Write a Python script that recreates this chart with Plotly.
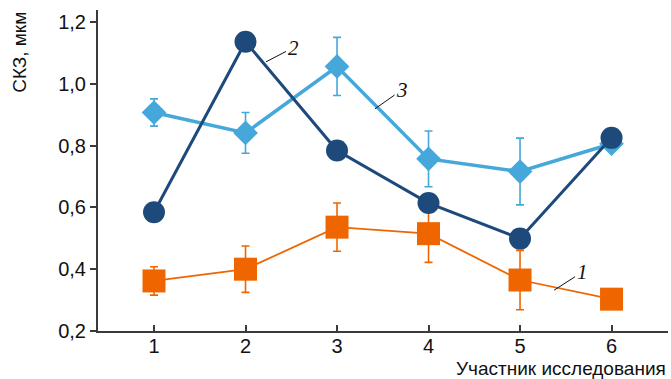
import plotly.graph_objects as go

# Participants and measured RMS values (мкм) with error margins
participants = [1, 2, 3, 4, 5, 6]

series1 = [0.362, 0.400, 0.536, 0.515, 0.365, 0.303]
series1_err = [0.046, 0.075, 0.078, 0.093, 0.096, 0.0]

series2 = [0.584, 1.136, 0.784, 0.614, 0.499, 0.825]

series3 = [0.907, 0.841, 1.056, 0.757, 0.716, 0.806]
series3_err = [0.044, 0.066, 0.094, 0.090, 0.108, 0.0]

y_ticks = [0.2, 0.4, 0.6, 0.8, 1.0, 1.2]
y_tick_text = ["0,2", "0,4", "0,6", "0,8", "1,0", "1,2"]

ORANGE = "#EF6600"
DARK_BLUE = "#1E497B"
LIGHT_BLUE = "#45A7DA"
AXIS = "#3a3a3a"

fig = go.Figure()

fig.add_trace(go.Scatter(
    x=participants, y=series1, mode="lines+markers",
    line=dict(color=ORANGE, width=1.8),
    marker=dict(symbol="square", size=23, color=ORANGE),
    error_y=dict(type="data", array=series1_err, visible=True,
                 color=ORANGE, thickness=1.6, width=4),
))

fig.add_trace(go.Scatter(
    x=participants, y=series3, mode="lines+markers",
    line=dict(color=LIGHT_BLUE, width=3.5),
    marker=dict(symbol="diamond", size=19, color=LIGHT_BLUE),
    error_y=dict(type="data", array=series3_err, visible=True,
                 color=LIGHT_BLUE, thickness=1.6, width=4),
))

fig.add_trace(go.Scatter(
    x=participants, y=series2, mode="lines+markers",
    line=dict(color=DARK_BLUE, width=3),
    marker=dict(symbol="circle", size=22, color=DARK_BLUE),
))

label_font = dict(family="Liberation Serif", size=21, color="#111111")
for txt, xa, ya, ax, ay in [("2", 2.224, 1.071, 27, -14),
                            ("3", 3.415, 0.919, 27, -19),
                            ("1", 5.372, 0.332, 28, -18)]:
    fig.add_annotation(x=xa, y=ya, xref="x", yref="y", text=f"<i>{txt}</i>",
                       showarrow=True, arrowhead=0, arrowwidth=1,
                       arrowcolor="#111111", ax=ax, ay=ay,
                       font=label_font, standoff=0)

fig.add_annotation(text="СКЗ, мкм", textangle=-90, xref="paper", yref="paper",
                   x=-0.138, y=1.0, xanchor="center", yanchor="top",
                   showarrow=False,
                   font=dict(family="Liberation Sans", size=19, color="#111111"))
fig.add_annotation(text="Участник исследования", xref="paper", yref="paper",
                   x=1.0, y=-0.157, xanchor="right", yanchor="bottom",
                   showarrow=False,
                   font=dict(family="Liberation Sans", size=19, color="#111111"))

fig.update_layout(
    width=671, height=379,
    margin=dict(l=98, r=3, t=10, b=48),
    paper_bgcolor="white", plot_bgcolor="white",
    showlegend=False,
    font=dict(family="Liberation Sans", size=20, color="#111111"),
)
fig.update_xaxes(
    range=[0.388, 6.617], tickvals=participants,
    ticks="inside", ticklen=6, tickwidth=1.5, tickcolor=AXIS,
    showline=True, linecolor=AXIS, linewidth=2,
    showgrid=False, zeroline=False,
    tickfont=dict(size=20), ticklabelstandoff=-4,
)
fig.update_yaxes(
    range=[0.2, 1.2387], tickvals=y_ticks, ticktext=y_tick_text,
    ticks="outside", ticklen=6, tickwidth=1.5, tickcolor=AXIS,
    showline=True, linecolor=AXIS, linewidth=2,
    showgrid=False, zeroline=False,
    tickfont=dict(size=20),
)

fig.write_html("out.html")
